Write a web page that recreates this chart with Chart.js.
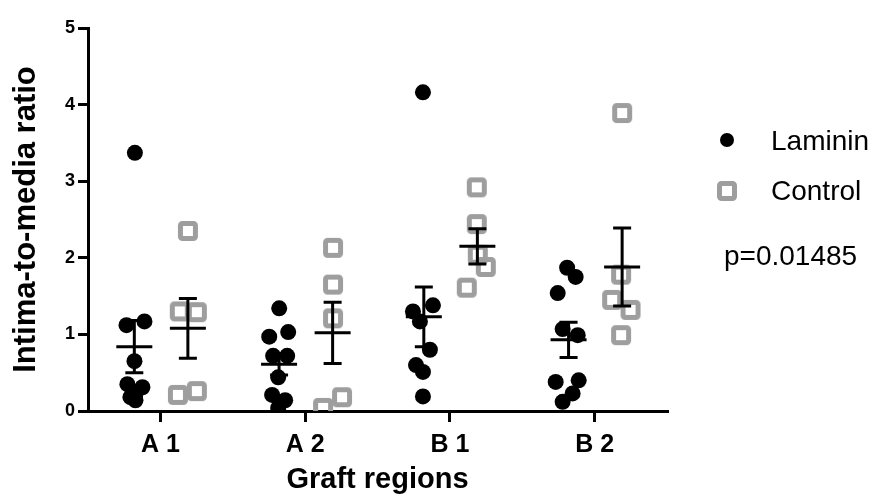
<!DOCTYPE html>
<html>
<head>
<meta charset="utf-8">
<script src="https://cdn.jsdelivr.net/npm/chart.js@4.4.1/dist/chart.umd.min.js"></script>
<style>
html,body{margin:0;padding:0;background:#fff;}
#c{display:block;}
</style>
</head>
<body>
<canvas id="c" width="881" height="497"></canvas>
<script>
// ---- data ----
const categories = ['A 1', 'A 2', 'B 1', 'B 2'];
const yTicks = [0, 1, 2, 3, 4, 5];

const lamininA1 = [3.37, 1.12, 1.17, 0.65, 0.35, 0.31, 0.22, 0.18, 0.14];
const lamininA2 = [1.34, 1.03, 0.97, 0.72, 0.72, 0.44, 0.21, 0.14, 0.04];
const lamininB1 = [4.16, 1.38, 1.30, 1.17, 0.80, 0.60, 0.51, 0.19];
const lamininB2 = [1.87, 1.75, 1.54, 1.07, 0.99, 0.40, 0.38, 0.23, 0.12];

const controlA1 = [2.35, 1.30, 1.29, 0.21, 0.26];
const controlA2 = [2.13, 1.65, 1.21, 0.18, 0.04];
const controlB1 = [2.92, 2.44, 2.04, 1.88, 1.61];
const controlB2 = [3.89, 1.78, 1.45, 1.32, 0.99];

const lamininMean = [0.84, 0.61, 1.23, 0.93];
const lamininSem  = [0.34, 0.14, 0.39, 0.23];
const controlMean = [1.08, 1.02, 2.15, 1.88];
const controlSem  = [0.39, 0.40, 0.23, 0.51];

const pValueText = 'p=0.01485';

// horizontal scatter (jitter) within a group, in category units
const lamininJitter = [
  [-0.176, -0.234, -0.110, -0.179, -0.228, -0.124, -0.172, -0.207, -0.172],
  [-0.179, -0.117, -0.248, -0.221, -0.124, -0.186, -0.228, -0.138, -0.186],
  [-0.186, -0.117, -0.255, -0.207, -0.138, -0.234, -0.186, -0.186],
  [-0.190, -0.131, -0.255, -0.221, -0.117, -0.110, -0.269, -0.152, -0.221]
];
const controlJitter = [
  [0.190, 0.134, 0.252, 0.121, 0.252],
  [0.193, 0.193, 0.193, 0.255, 0.124],
  [0.186, 0.186, 0.193, 0.248, 0.117],
  [0.190, 0.183, 0.121, 0.248, 0.183]
];
const barOffset = { laminin: -0.18, control: 0.19 };

const lamininGroups = [lamininA1, lamininA2, lamininB1, lamininB2];
const controlGroups = [controlA1, controlA2, controlB1, controlB2];

function buildPoints(groups, jitter) {
  const pts = [];
  groups.forEach((vals, gi) => {
    vals.forEach((v, k) => pts.push({ x: gi + jitter[gi][k], y: v }));
  });
  return pts;
}

const GREY = 'rgb(158,158,158)';
const FONT = '"Liberation Sans", Arial, Helvetica, sans-serif';

// hollow rounded square marker
function makeSquare() {
  const s = 22;
  const cv = document.createElement('canvas');
  cv.width = s; cv.height = s;
  const c = cv.getContext('2d');
  c.strokeStyle = GREY;
  c.lineWidth = 5;
  c.lineJoin = 'round';
  const o = 3.5, w = s - 2 * o, r = 2;
  c.beginPath();
  c.moveTo(o + r, o);
  c.lineTo(o + w - r, o); c.arcTo(o + w, o, o + w, o + r, r);
  c.lineTo(o + w, o + w - r); c.arcTo(o + w, o + w, o + w - r, o + w, r);
  c.lineTo(o + r, o + w); c.arcTo(o, o + w, o, o + w - r, r);
  c.lineTo(o, o + r); c.arcTo(o, o, o + r, o, r);
  c.closePath();
  c.stroke();
  return cv;
}
const squareImg = makeSquare();

const errorBarPlugin = {
  id: 'errorBars',
  afterDatasetsDraw(chart) {
    const { ctx, scales: { x, y } } = chart;
    ctx.save();
    ctx.strokeStyle = '#000';
    ctx.lineWidth = 3;
    ctx.lineCap = 'butt';
    const draw = (means, sems, off) => {
      means.forEach((m, i) => {
        const px = x.getPixelForValue(i + off);
        const ym = y.getPixelForValue(m);
        const yh = y.getPixelForValue(m + sems[i]);
        const yl = y.getPixelForValue(m - sems[i]);
        ctx.beginPath();
        ctx.moveTo(px, yh); ctx.lineTo(px, yl);
        ctx.moveTo(px - 18, ym); ctx.lineTo(px + 18, ym);
        ctx.moveTo(px - 9, yh); ctx.lineTo(px + 9, yh);
        ctx.moveTo(px - 9, yl); ctx.lineTo(px + 9, yl);
        ctx.stroke();
      });
    };
    draw(lamininMean, lamininSem, barOffset.laminin);
    draw(controlMean, controlSem, barOffset.control);
    ctx.restore();
  }
};

const legendPlugin = {
  id: 'customLegend',
  afterDraw(chart) {
    const ctx = chart.ctx;
    const ds = chart.data.datasets;
    ctx.save();
    ctx.fillStyle = '#000';
    ctx.beginPath(); ctx.arc(727, 140, 7, 0, Math.PI * 2); ctx.fill();
    ctx.drawImage(squareImg, 727 - 11, 191 - 11);
    ctx.fillStyle = '#000';
    ctx.font = '28px ' + FONT;
    ctx.textBaseline = 'middle';
    ctx.textAlign = 'left';
    ctx.fillText(ds[0].label, 771, 142);
    ctx.fillText(ds[1].label, 771, 192);
    ctx.fillText(pValueText, 724, 257);
    ctx.restore();
  }
};

new Chart(document.getElementById('c'), {
  type: 'scatter',
  data: {
    datasets: [
      {
        label: 'Laminin',
        data: buildPoints(lamininGroups, lamininJitter),
        pointStyle: 'circle',
        pointRadius: 8,
        pointHoverRadius: 8,
        backgroundColor: '#000',
        borderWidth: 0
      },
      {
        label: 'Control',
        data: buildPoints(controlGroups, controlJitter),
        pointStyle: squareImg,
        pointRadius: 11,
        pointHoverRadius: 11,
        backgroundColor: 'rgba(255,255,255,0)',
        borderColor: GREY,
        borderWidth: 0
      }
    ]
  },
  options: {
    responsive: false,
    animation: false,
    events: [],
    layout: { padding: { top: 28, right: 214, left: 0, bottom: 0 } },
    plugins: { legend: { display: false }, tooltip: { enabled: false } },
    scales: {
      x: {
        type: 'linear',
        min: -0.5,
        max: 3.5,
        afterBuildTicks(scale) { scale.ticks = categories.map((_, i) => ({ value: i })); },
        afterFit(scale) { scale.height = 86; },
        ticks: {
          callback: (v) => categories[v],
          color: '#000',
          font: { family: FONT, size: 25, weight: 'bold' },
          padding: 8,
          maxRotation: 0
        },
        grid: { drawOnChartArea: false, drawTicks: true, tickLength: 11, color: '#000', lineWidth: 3 },
        border: { display: true, color: '#000', width: 3 },
        title: {
          display: true,
          text: 'Graft regions',
          color: '#000',
          font: { family: FONT, size: 29, weight: 'bold' },
          padding: { top: 2, bottom: 0 }
        }
      },
      y: {
        min: 0,
        max: 5,
        afterBuildTicks(scale) { scale.ticks = yTicks.map(v => ({ value: v })); },
        afterFit(scale) { scale.width = 88; },
        ticks: {
          color: '#000',
          font: { family: FONT, size: 18, weight: 'bold' },
          padding: 3
        },
        grid: { drawOnChartArea: false, drawTicks: true, tickLength: 10, color: '#000', lineWidth: 3 },
        border: { display: true, color: '#000', width: 3 },
        title: {
          display: true,
          text: 'Intima-to-media ratio',
          color: '#000',
          font: { family: FONT, size: 31, weight: 'bold' },
          padding: { top: 8, bottom: 0 }
        }
      }
    }
  },
  plugins: [errorBarPlugin, legendPlugin]
});
</script>
</body>
</html>
